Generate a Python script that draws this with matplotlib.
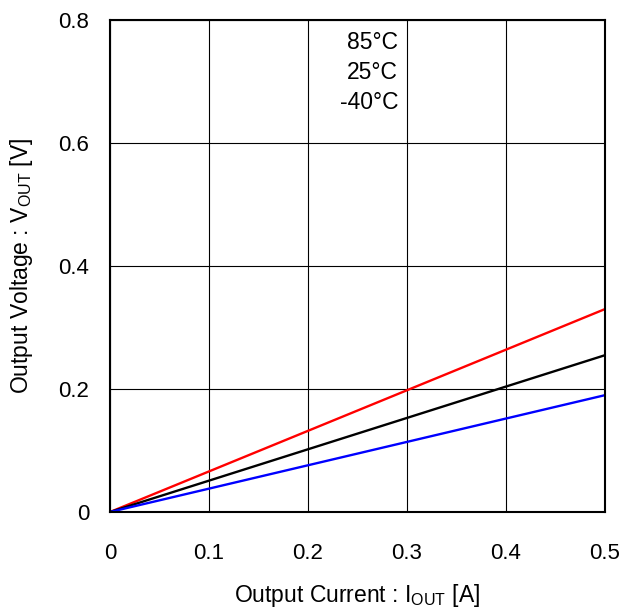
import matplotlib.pyplot as plt

plt.rcParams['font.family'] = ['Liberation Sans', 'DejaVu Sans']

current = [0.0, 0.5]
v_85 = [0.0, 0.330]
v_25 = [0.0, 0.255]
v_m40 = [0.0, 0.190]

xticks = [0, 0.1, 0.2, 0.3, 0.4, 0.5]
xticklabels = ["0", "0.1", "0.2", "0.3", "0.4", "0.5"]
yticks = [0, 0.2, 0.4, 0.6, 0.8]
yticklabels = ["0", "0.2", "0.4", "0.6", "0.8"]
temps = ["85°C", "25°C", "-40°C"]

fig = plt.figure(figsize=(6.24, 6.12), dpi=100)
ax = fig.add_axes([0.1763, 0.1634, 0.7933, 0.8039])

ax.plot(current, v_85, color="red", lw=1.7)
ax.plot(current, v_25, color="black", lw=1.7)
ax.plot(current, v_m40, color="blue", lw=1.7)

ax.set_xlim(0, 0.5)
ax.set_ylim(0, 0.8)
ax.set_xticks(xticks)
ax.set_xticklabels(xticklabels)
ax.set_yticks(yticks)
ax.set_yticklabels(yticklabels)
ax.tick_params(length=0, labelsize=16)
ax.tick_params(axis='x', pad=22)
ax.tick_params(axis='y', pad=15)
ax.grid(True, color="black", lw=0.8)
for s in ax.spines.values():
    s.set_linewidth(1.5)

for i, t in enumerate(temps):
    ax.text(0.582, 0.978 - i * 0.0615, t, transform=ax.transAxes,
            ha="right", va="top", fontsize=16.5)

ax.set_xlabel("Output Current : I$_{\\mathregular{OUT}}$ [A]", fontsize=16.5, labelpad=13)
ax.set_ylabel("Output Voltage : V$_{\\mathregular{OUT}}$ [V]", fontsize=16.5, labelpad=17)

fig.savefig("out.png")
